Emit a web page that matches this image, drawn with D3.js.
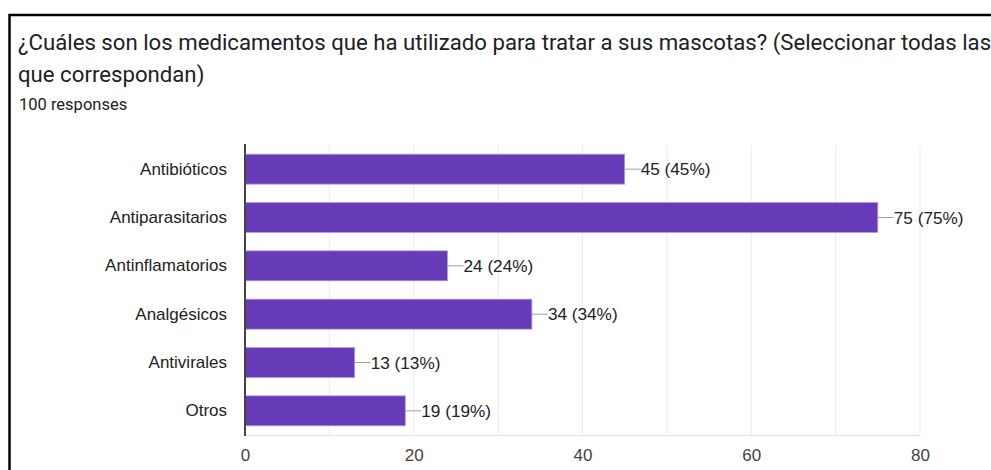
<!DOCTYPE html>
<html>
<meta charset='utf-8'>
<head>
<title>Medicamentos</title>
<script src='https://d3js.org/d3.v7.min.js'></script>
<style>
  body { margin: 0; background: #fff; }
</style>
</head>
<body>
<div id='chart'></div>
<script>

var titleLines = ['¿Cuáles son los medicamentos que ha utilizado para tratar a sus mascotas? (Seleccionar todas las',
                  'que correspondan)'];
var subtitle = '100 responses';
var categories = ['Antibióticos', 'Antiparasitarios', 'Antinflamatorios', 'Analgésicos', 'Antivirales', 'Otros'];
var counts = [45, 75, 24, 34, 13, 19];
var total = 100;
var xTicks = [0, 20, 40, 60, 80];

var W = 991, H = 470;
var margin = {top: 145, left: 245, right: 71, bottom: 35};

var svg = d3.select('#chart').append('svg')
    .attr('width', W)
    .attr('height', H);

// frame of the screenshot
svg.append('path')
    .attr('d', 'M9.5,' + H + 'V15H' + W)
    .attr('fill', 'none')
    .attr('stroke', '#000')
    .attr('stroke-width', 2.5);

svg.selectAll('.title')
    .data(titleLines)
    .enter().append('text')
    .attr('class', 'title')
    .attr('x', 18)
    .attr('y', function(d, i) { return 50 + i * 32; })
    .attr('font-family', 'Roboto')
    .attr('font-size', 22.2)
    .attr('fill', '#202124')
    .text(function(d) { return d; });

svg.append('text')
    .attr('x', 19)
    .attr('y', 110)
    .attr('font-family', 'Roboto')
    .attr('font-size', 16.5)
    .attr('fill', '#202124')
    .text(subtitle);

var x = d3.scaleLinear()
    .domain([0, 80])
    .range([margin.left, W - margin.right]);

var y = d3.scaleBand()
    .domain(categories)
    .range([margin.top, H - margin.bottom])
    .paddingInner(0.38)
    .paddingOuter(0.19);

var g = svg.append('g');

// gridlines every 10
g.selectAll('.grid')
    .data(d3.range(10, 81, 10))
    .enter().append('line')
    .attr('x1', function(d) { return x(d); })
    .attr('x2', function(d) { return x(d); })
    .attr('y1', margin.top)
    .attr('y2', H - margin.bottom)
    .attr('stroke', '#ececec')
    .attr('stroke-width', 1);

g.append('line')
    .attr('x1', x(0))
    .attr('x2', x(80))
    .attr('y1', H - margin.bottom + 0.5)
    .attr('y2', H - margin.bottom + 0.5)
    .attr('stroke', '#e0e0e0');

g.selectAll('.bar')
    .data(counts)
    .enter().append('rect')
    .attr('class', 'bar')
    .attr('x', x(0))
    .attr('y', function(d, i) { return y(categories[i]); })
    .attr('width', function(d) { return x(d) - x(0); })
    .attr('height', y.bandwidth())
    .attr('fill', '#673ab7')
    .attr('stroke', '#b39ddb')
    .attr('stroke-width', 0.8);

// leader lines and value labels
g.selectAll('.leader')
    .data(counts)
    .enter().append('line')
    .attr('x1', function(d) { return x(d); })
    .attr('x2', function(d) { return x(d) + 16; })
    .attr('y1', function(d, i) { return y(categories[i]) + y.bandwidth() / 2; })
    .attr('y2', function(d, i) { return y(categories[i]) + y.bandwidth() / 2; })
    .attr('stroke', '#9e9e9e')
    .attr('stroke-width', 1);

g.selectAll('.val')
    .data(counts)
    .enter().append('text')
    .attr('x', function(d) { return x(d) + 16; })
    .attr('y', function(d, i) { return y(categories[i]) + y.bandwidth() / 2; })
    .attr('dy', '0.36em')
    .attr('font-family', 'Arial, Liberation Sans')
    .attr('font-size', 17.2)
    .attr('fill', '#222')
    .text(function(d) { return d + ' (' + Math.round(d / total * 100) + '%)'; });

// category labels
var yAxis = g.append('g')
    .attr('transform', 'translate(' + x(0) + ',0)')
    .call(d3.axisLeft(y).tickSize(0).tickPadding(18));
yAxis.select('.domain')
    .attr('d', 'M0,' + (margin.top - 1) + 'V' + (H - margin.bottom + 1))
    .attr('stroke', '#444')
    .attr('stroke-width', 2);
yAxis.selectAll('text')
    .attr('font-family', 'Arial, Liberation Sans')
    .attr('font-size', 17)
    .attr('fill', '#222');

var xAxis = g.append('g')
    .attr('transform', 'translate(0,' + (H - margin.bottom) + ')')
    .call(d3.axisBottom(x).tickValues(xTicks).tickSize(0).tickPadding(14));
xAxis.select('.domain').remove();
xAxis.selectAll('text')
    .attr('font-family', 'Arial, Liberation Sans')
    .attr('font-size', 17)
    .attr('fill', '#444');

</script>
</body>
</html>
